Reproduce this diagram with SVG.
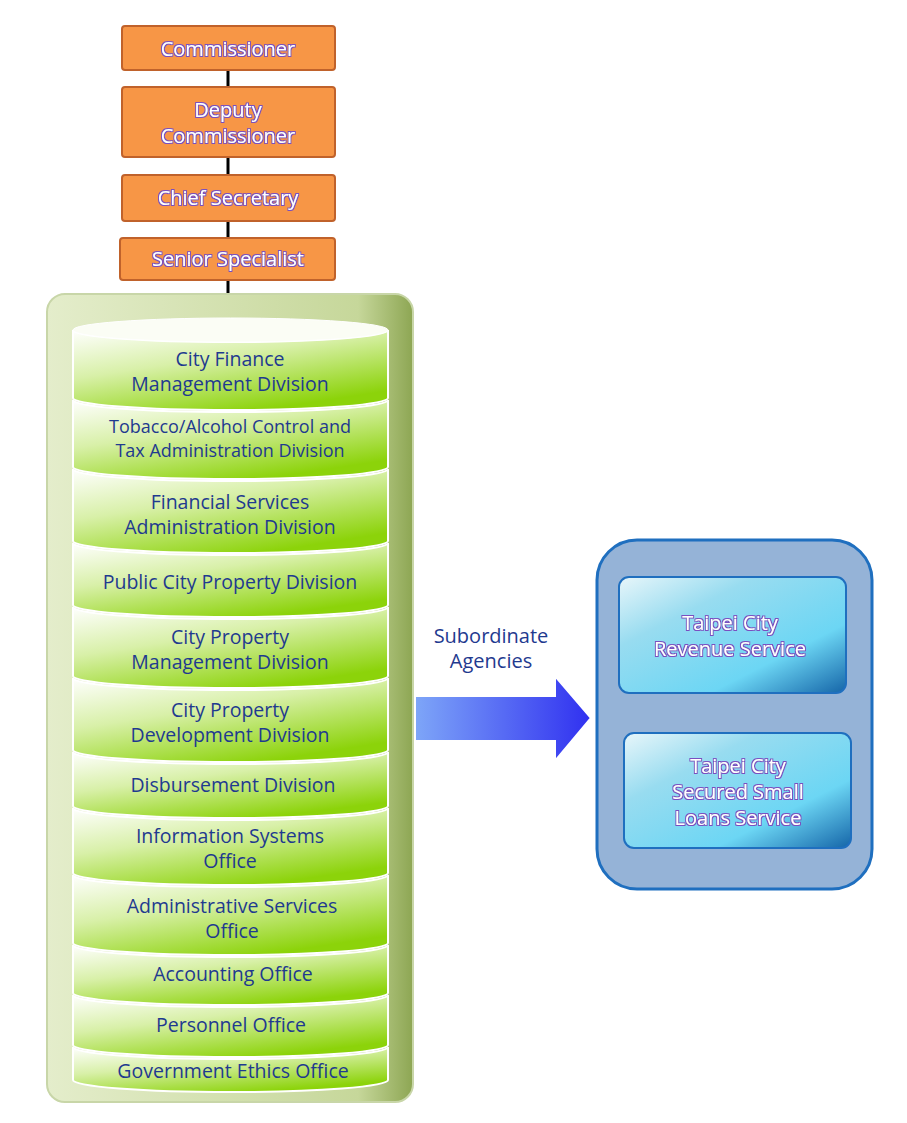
<svg xmlns="http://www.w3.org/2000/svg" width="907" height="1123" viewBox="0 0 907 1123">
<defs>
<linearGradient id="panel" x1="0" y1="0" x2="1" y2="0"><stop offset="0" stop-color="#e4edcb"/><stop offset="0.85" stop-color="#c6d79a"/><stop offset="1" stop-color="#8da653"/></linearGradient>
<linearGradient id="seg" x1="0" y1="0" x2="0.6" y2="1"><stop offset="0" stop-color="#ffffff"/><stop offset="0.45" stop-color="#d8f0a8"/><stop offset="1" stop-color="#8cd30a"/></linearGradient>
<linearGradient id="arr" x1="0" y1="0" x2="1" y2="0"><stop offset="0" stop-color="#7ea6f8"/><stop offset="1" stop-color="#3030f0"/></linearGradient>
<linearGradient id="inner" x1="0" y1="0" x2="1" y2="1"><stop offset="0" stop-color="#e8f6fa"/><stop offset="0.3" stop-color="#98dcf0"/><stop offset="0.7" stop-color="#6cd6f4"/><stop offset="1" stop-color="#1565a8"/></linearGradient>
<filter id="glow"><feMorphology in="SourceAlpha" operator="dilate" radius="1.1" result="d"/><feFlood flood-color="#7a4fc0"/><feComposite in2="d" operator="in" result="g"/><feMerge><feMergeNode in="g"/><feMergeNode in="SourceGraphic"/></feMerge></filter>
</defs>
<style>
.top rect{fill:#f79646;stroke:#c0622b;stroke-width:2}
.top text,.ag text{font-family:"Open Sans",sans-serif;font-size:20px;fill:#fff;text-anchor:middle;filter:url(#glow)}
.seg path{fill:url(#seg);stroke:#fff;stroke-width:2}
.seg text{font-family:"Open Sans",sans-serif;font-size:19.5px;fill:#1f3a8f;text-anchor:middle}
.seg text.s{font-size:18px}
.lbl{font-family:"Open Sans",sans-serif;font-size:20px;fill:#1f3a8f;text-anchor:middle}
</style>
<g id="connectors"><line x1="228" y1="70" x2="228" y2="296" stroke="#000" stroke-width="3"/></g>
<g id="commissioner" class="top"><rect x="122" y="26" width="213" height="44" rx="3"/><text x="228" y="56">Commissioner</text></g>
<g id="deputy" class="top"><rect x="122" y="87" width="213" height="70" rx="3"/><text x="228" y="117">Deputy</text><text x="228" y="143">Commissioner</text></g>
<g id="chief" class="top"><rect x="122" y="175" width="213" height="46" rx="3"/><text x="228" y="205">Chief  Secretary</text></g>
<g id="senior" class="top"><rect x="120" y="238" width="215" height="42" rx="3"/><text x="228" y="266">Senior  Specialist</text></g>
<g id="panel"><rect x="47" y="294" width="366" height="808" rx="18" fill="url(#panel)" stroke="#c8d6a8" stroke-width="2"/></g>
<g id="divisions" class="seg">
<path d="M73,330 A157,12 0 0 0 388,330 L388,398 A157,12 0 0 1 73,398 Z"/>
<ellipse cx="230.5" cy="330" rx="157.5" ry="12" fill="#fbfdf5" stroke="#fff"/>
<text x="230" y="366">City Finance</text><text x="230" y="391">Management Division</text>
<path d="M73,400 A157,12 0 0 0 388,400 L388,467 A157,12 0 0 1 73,467 Z"/>
<text class="s" x="230" y="433">Tobacco/Alcohol Control and</text><text class="s" x="230" y="457">Tax Administration Division</text>
<path d="M73,469 A157,12 0 0 0 388,469 L388,541 A157,12 0 0 1 73,541 Z"/>
<text x="230" y="509">Financial Services</text><text x="230" y="534">Administration Division</text>
<path d="M73,543 A157,12 0 0 0 388,543 L388,605 A157,12 0 0 1 73,605 Z"/>
<text x="230" y="589">Public City Property Division</text>
<path d="M73,607 A157,12 0 0 0 388,607 L388,676 A157,12 0 0 1 73,676 Z"/>
<text x="230" y="644">City Property</text><text x="230" y="669">Management Division</text>
<path d="M73,678 A157,12 0 0 0 388,678 L388,750 A157,12 0 0 1 73,750 Z"/>
<text x="230" y="717">City Property</text><text x="230" y="742">Development Division</text>
<path d="M73,752 A157,12 0 0 0 388,752 L388,806 A157,12 0 0 1 73,806 Z"/>
<text x="233" y="792">Disbursement Division</text>
<path d="M73,808 A157,12 0 0 0 388,808 L388,873 A157,12 0 0 1 73,873 Z"/>
<text x="230" y="843">Information Systems</text><text x="230" y="868">Office</text>
<path d="M73,875 A157,12 0 0 0 388,875 L388,943 A157,12 0 0 1 73,943 Z"/>
<text x="232" y="913">Administrative Services</text><text x="232" y="938">Office</text>
<path d="M73,945 A157,12 0 0 0 388,945 L388,993 A157,12 0 0 1 73,993 Z"/>
<text x="233" y="981">Accounting Office</text>
<path d="M73,995 A157,12 0 0 0 388,995 L388,1045 A157,12 0 0 1 73,1045 Z"/>
<text x="231" y="1032">Personnel Office</text>
<path d="M73,1047 A157,12 0 0 0 388,1047 L388,1080 A157,12 0 0 1 73,1080 Z"/>
<text x="233" y="1078">Government Ethics Office</text>
</g>
<g id="arrow">
<path d="M415,696 L555,696 L555,676 L591,718 L555,761 L555,741 L415,741 Z" fill="url(#arr)" stroke="#fff" stroke-width="2"/>
<text class="lbl" x="491" y="643">Subordinate</text><text class="lbl" x="491" y="668">Agencies</text>
</g>
<g id="agencies"><rect x="597" y="540" width="275" height="349" rx="40" fill="#95b3d7" stroke="#1f6fbf" stroke-width="3"/></g>
<g id="revenue" class="ag"><rect x="619" y="577" width="227" height="116" rx="10" fill="url(#inner)" stroke="#1f6fbf" stroke-width="2"/><text x="730" y="630">Taipei  City</text><text x="730" y="656">Revenue  Service</text></g>
<g id="loans" class="ag"><rect x="624" y="733" width="227" height="115" rx="10" fill="url(#inner)" stroke="#1f6fbf" stroke-width="2"/><text x="738" y="773">Taipei  City</text><text x="738" y="799">Secured  Small</text><text x="738" y="825">Loans  Service</text></g>
</svg>
